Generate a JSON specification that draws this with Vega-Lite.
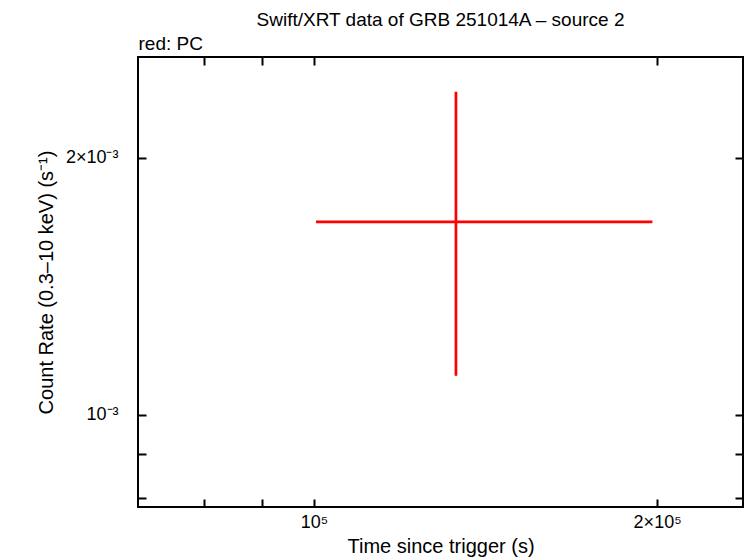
{
  "$schema": "https://vega.github.io/schema/vega-lite/v6.json",
  "width": 605,
  "height": 450,
  "autosize": {"type": "none"},
  "padding": {"left": 138, "top": 57, "right": 3, "bottom": 51},
  "background": "white",
  "config": {
    "font": "Liberation Sans",
    "view": {"stroke": "black", "strokeWidth": 2},
    "axis": {"grid": false, "domain": false, "tickColor": "black", "tickWidth": 2, "labelColor": "black", "titleColor": "black", "labelFont": "Liberation Sans", "titleFont": "Liberation Sans", "labelFontSize": 18, "titleFontSize": 20, "titleFontWeight": "normal"}
  },
  "title": {"text": "Swift/XRT data of GRB 251014A – source 2", "fontSize": 19, "fontWeight": "normal", "font": "Liberation Sans", "anchor": "middle", "offset": 4, "color": "black"},
  "data": {"values": [
    {"t": 133200, "tlo": 100400, "thi": 198100, "rate": 0.001683, "rlo": 0.001111, "rhi": 0.00239}
  ]},
  "layer": [
    {
      "mark": {"type": "rule", "color": "#ff0000", "strokeWidth": 2.7},
      "encoding": {
        "x": {"field": "tlo", "type": "quantitative", "scale": {"type": "log", "domain": [70070, 237900], "nice": false},
          "axis": {"orient": "bottom", "title": "Time since trigger (s)", "values": [70000, 80000, 90000, 100000, 200000], "tickSize": -8, "labelPadding": 14, "labelFontSize": 18, "titleY": 29, "titleFontSize": 20,
            "labelExpr": "datum.value == 100000 ? '10⁵' : datum.value == 200000 ? '2×10⁵' : ''"}},
        "x2": {"field": "thi"},
        "y": {"field": "rate", "type": "quantitative", "scale": {"type": "log", "domain": [0.00078, 0.002625], "nice": false},
          "axis": {"orient": "left", "title": "Count Rate (0.3–10 keV) (s⁻¹)", "values": [0.0008, 0.0009, 0.001, 0.002], "tickSize": -8, "labelPadding": 28, "labelFontSize": 18, "titleX": -82, "titleFontSize": 20,
            "labelExpr": "datum.value == 0.001 ? '10⁻³' : datum.value == 0.002 ? '2×10⁻³' : ''"}}
      }
    },
    {
      "mark": {"type": "rule", "color": "#ff0000", "strokeWidth": 2.7},
      "encoding": {
        "x": {"field": "t", "type": "quantitative", "scale": {"type": "log", "domain": [70070, 237900], "nice": false},
          "axis": {"orient": "top", "title": "red: PC", "titleAnchor": "start", "titleAlign": "left", "titleFontSize": 19, "titlePadding": 3, "values": [70000, 80000, 90000, 100000, 200000], "tickSize": -8, "labels": false}},
        "y": {"field": "rlo", "type": "quantitative", "scale": {"type": "log", "domain": [0.00078, 0.002625], "nice": false},
          "axis": {"orient": "right", "title": null, "values": [0.0008, 0.0009, 0.001, 0.002], "tickSize": -8, "labels": false}},
        "y2": {"field": "rhi"}
      }
    }
  ],
  "resolve": {"axis": {"x": "independent", "y": "independent"}}
}
